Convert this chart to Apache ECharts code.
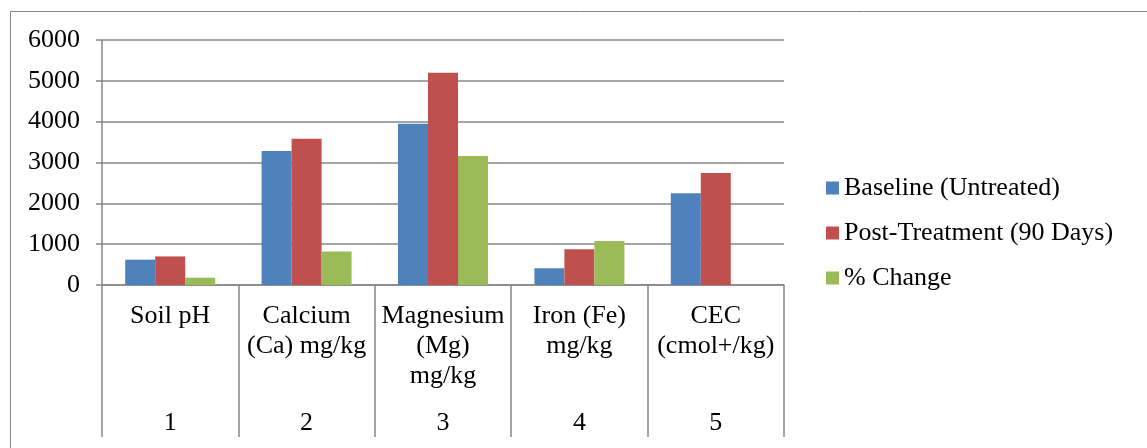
<!DOCTYPE html>
<html>
<head>
<meta charset="utf-8">
<title>Soil Properties Before and After Treatment</title>
<script src="https://cdn.jsdelivr.net/npm/echarts@6/dist/echarts.min.js"></script>
<style>
  html, body { margin: 0; padding: 0; background: #ffffff; }
  #chart { width: 1147px; height: 448px; }
</style>
</head>
<body>
<div id="chart"></div>
<script>
// Category labels (upper row) and index numbers (lower row) of the axis
const categories = ['Soil pH', 'Calcium\n(Ca) mg/kg', 'Magnesium\n(Mg)\nmg/kg', 'Iron (Fe)\nmg/kg', 'CEC\n(cmol+/kg)'];
const categoryNumbers = ['1', '2', '3', '4', '5'];

// Series values
const baseline = [620, 3280, 3950, 410, 2250];
const postTreatment = [700, 3580, 5200, 875, 2740];
const percentChange = [180, 820, 3160, 1080, null];

// Value axis ticks
const yMin = 0;
const yMax = 6000;
const yStep = 1000;

const FONT = '"Liberation Serif", "DejaVu Serif", serif';
const GREY = '#878787';

const chart = echarts.init(document.getElementById('chart'), null, { renderer: 'canvas' });

chart.setOption({
  animation: false,
  backgroundColor: '#ffffff',
  textStyle: { fontFamily: FONT },
  graphic: [{
    // chart area frame
    type: 'rect',
    silent: true,
    shape: { x: 10.5, y: 11.5, width: 1300, height: 600 },
    style: { fill: 'none', stroke: GREY, lineWidth: 1 }
  }],
  grid: { left: 102, right: 363, top: 40, bottom: 163, containLabel: false },
  legend: {
    orient: 'vertical',
    left: 826,
    top: 173,
    padding: 0,
    itemWidth: 13,
    itemHeight: 13,
    itemGap: 15,
    icon: 'rect',
    textStyle: { fontFamily: FONT, fontSize: 26, color: '#000', lineHeight: 30 },
    data: ['Baseline (Untreated)', 'Post-Treatment (90 Days)', '% Change']
  },
  xAxis: [{
    type: 'category',
    data: categories,
    position: 'bottom',
    axisLine: { show: true, lineStyle: { color: GREY, width: 1.5 } },
    axisTick: { show: true, alignWithLabel: false, interval: 0, length: 152, lineStyle: { color: GREY, width: 1.5 } },
    axisLabel: {
      interval: 0, margin: 16, color: '#000',
      fontFamily: FONT, fontSize: 26, lineHeight: 30, align: 'center'
    },
    splitLine: { show: false }
  }, {
    type: 'category',
    data: categoryNumbers,
    position: 'bottom',
    offset: 0,
    axisLine: { show: false },
    axisTick: { show: false },
    axisLabel: { interval: 0, margin: 123, color: '#000', fontFamily: FONT, fontSize: 26, lineHeight: 30 },
    splitLine: { show: false }
  }],
  yAxis: {
    type: 'value',
    min: yMin,
    max: yMax,
    interval: yStep,
    axisLine: { show: true, lineStyle: { color: GREY, width: 1.5 } },
    axisTick: { show: true, length: 6, lineStyle: { color: GREY, width: 1.5 } },
    axisLabel: {
      margin: 22, color: '#000', fontFamily: FONT, fontSize: 26,
      formatter: (v) => String(v)
    },
    splitLine: { show: true, lineStyle: { color: GREY, width: 1.5 } }
  },
  series: [{
    name: 'Baseline (Untreated)',
    type: 'bar',
    xAxisIndex: 0,
    data: baseline,
    barWidth: 30,
    barGap: '0%',
    itemStyle: { color: '#4F81BD' }
  }, {
    name: 'Post-Treatment (90 Days)',
    type: 'bar',
    xAxisIndex: 0,
    data: postTreatment,
    barWidth: 30,
    barGap: '0%',
    itemStyle: { color: '#C0504D' }
  }, {
    name: '% Change',
    type: 'bar',
    xAxisIndex: 0,
    data: percentChange,
    barWidth: 30,
    barGap: '0%',
    itemStyle: { color: '#9BBB59' }
  }]
});
</script>
</body>
</html>
